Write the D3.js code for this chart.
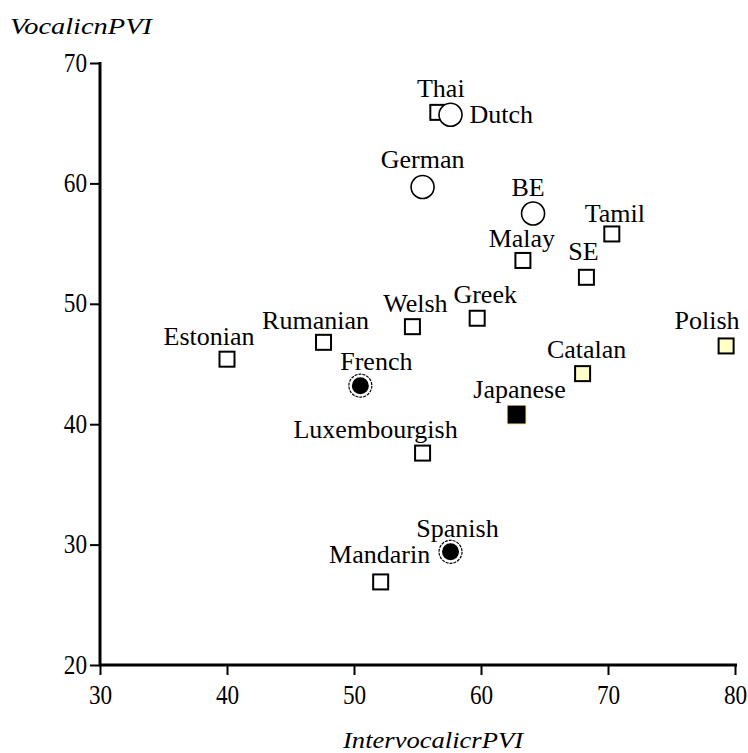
<!DOCTYPE html>
<html><head><meta charset="utf-8">
<script src="https://cdn.jsdelivr.net/npm/d3@7/dist/d3.min.js"></script></head>
<body style="margin:0">
<svg id="chart" width="748" height="753" font-family="Times New Roman"></svg>
<script>
// ---- Data ----
const languages = ["Thai","Dutch","German","BE","Tamil","Malay","SE","Greek","Welsh","Rumanian","Estonian","Polish","Catalan","French","Japanese","Luxembourgish","Spanish","Mandarin"];
const intervocalicRPVI = [56.6,57.6,55.4,64.1,70.3,63.3,68.3,59.7,54.6,47.6,40.0,79.3,68.0,50.5,62.8,55.4,57.6,52.1];
const vocalicNPVI     = [65.9,65.7,59.7,57.5,55.8,53.6,52.2,48.8,48.1,46.8,45.4,46.5,44.2,43.2,40.8,37.6,29.4,26.9];
const markerKind      = ["open-square","open-circle","open-circle","open-circle","open-square","open-square","open-square","open-square","open-square","open-square","open-square","pale-square","pale-square","filled-circle","filled-square","open-square","filled-circle","open-square"];
const xTicks = [30,40,50,60,70,80];
const yTicks = [20,30,40,50,60,70];
const xTitle = "IntervocalicrPVI";
const yTitle = "VocalicnPVI";

// ---- Label layout (offsets from marker centre) ----
const labelLayout = {
  Thai:[3,-15,"middle"], Dutch:[19,8,"start"], German:[0,-19,"middle"], BE:[-5,-18,"middle"],
  Tamil:[3,-12,"middle"], Malay:[-1,-13,"middle"], SE:[-3,-17,"middle"], Greek:[8,-15,"middle"],
  Welsh:[3,-15,"middle"], Rumanian:[-8,-13,"middle"], Estonian:[-18,-14,"middle"], Polish:[-19,-17,"middle"],
  Catalan:[4,-16,"middle"], French:[16,-16,"middle"], Japanese:[3,-17,"middle"], Luxembourgish:[-47,-15,"middle"],
  Spanish:[7,-15,"middle"], Mandarin:[-1,-19,"middle"]
};

const data = languages.map((name,i)=>({name, x:intervocalicRPVI[i], y:vocalicNPVI[i], kind:markerKind[i]}));

const svg = d3.select("#chart");
const x = d3.scaleLinear().domain([30,80]).range([100,735]);
const y = d3.scaleLinear().domain([20,70]).range([665,63]);

function serif(sel, size) {
  return sel.attr("font-family", "Times New Roman")
            .style("font-family", `"Times New Roman"`)
            .style("font-size", size + "px").attr("fill", "#000");
}

// ---- Axes ----
const xAxis = svg.append("g").attr("transform","translate(0,665)")
  .call(d3.axisBottom(x).tickValues(xTicks).tickSize(10).tickSizeOuter(0).tickPadding(0).tickFormat(()=>""));
xAxis.attr("font-family", null).attr("font-size", null);
xAxis.select(".domain").attr("d","M99,0H737").attr("stroke","#000").attr("stroke-width",3);
xAxis.selectAll(".tick line").attr("stroke","#000").attr("stroke-width",2);
xAxis.selectAll(".tick text").remove();
serif(xAxis.selectAll(".tick").append("text"), 27)
  .attr("text-anchor","middle")
  .attr("transform","translate(0,39) scale(0.86,1)")
  .text(d=>d);

const yAxis = svg.append("g").attr("transform","translate(100,0)")
  .call(d3.axisLeft(y).tickValues(yTicks).tickSize(10).tickSizeOuter(0).tickPadding(0).tickFormat(()=>""));
yAxis.attr("font-family", null).attr("font-size", null);
yAxis.select(".domain").attr("d","M0,62V666").attr("stroke","#000").attr("stroke-width",3);
yAxis.selectAll(".tick line").attr("stroke","#000").attr("stroke-width",2);
yAxis.selectAll(".tick text").remove();
serif(yAxis.selectAll(".tick").append("text"), 27)
  .attr("text-anchor","end")
  .attr("transform","translate(-13,8) scale(0.86,1)")
  .text(d=>d);

// ---- Axis titles ----
serif(svg.append("text"), 24).attr("x",10).attr("y",34)
  .style("font-style","italic")
  .attr("textLength",142).attr("lengthAdjust","spacingAndGlyphs")
  .text(yTitle);
serif(svg.append("text"), 24).attr("x",343).attr("y",748)
  .style("font-style","italic")
  .attr("textLength",180).attr("lengthAdjust","spacingAndGlyphs")
  .text(xTitle);

// ---- Markers ----
const squares = data.filter(d=>d.kind.endsWith("square"));
const circles = data.filter(d=>d.kind.endsWith("circle"));

svg.append("g").selectAll("rect").data(squares).join("rect")
  .attr("x",d=>x(d.x)-(d.kind==="filled-square"?9.5:7.5))
  .attr("y",d=>y(d.y)-(d.kind==="filled-square"?9.5:7.5))
  .attr("width",d=>d.kind==="filled-square"?19:15)
  .attr("height",d=>d.kind==="filled-square"?19:15)
  .attr("fill",d=>d.kind==="filled-square"?"#000":(d.kind==="pale-square"?"#ffffc8":"#fff"))
  .attr("stroke",d=>d.kind==="filled-square"?"#fff6c0":"#000")
  .attr("stroke-width",d=>d.kind==="filled-square"?1:2);

const cg = svg.append("g").selectAll("g").data(circles).join("g")
  .attr("transform",d=>`translate(${x(d.x)},${y(d.y)})`);
cg.filter(d=>d.kind==="open-circle").append("circle")
  .attr("r",11.5).attr("fill","#fff").attr("stroke","#000").attr("stroke-width",1.6);
cg.filter(d=>d.kind==="filled-circle").append("circle")
  .attr("r",11.5).attr("fill","#fff").attr("stroke","#000").attr("stroke-width",1.2)
  .attr("stroke-dasharray","3,1");
cg.filter(d=>d.kind==="filled-circle").append("circle")
  .attr("r",8.5).attr("fill","#000");

// ---- Labels ----
serif(svg.append("g").selectAll("text").data(data).join("text"), 26)
  .attr("text-anchor",d=>labelLayout[d.name][2])
  .attr("x",d=>x(d.x)+labelLayout[d.name][0])
  .attr("y",d=>y(d.y)+labelLayout[d.name][1])
  .text(d=>d.name);
</script>
</body>
</html>
